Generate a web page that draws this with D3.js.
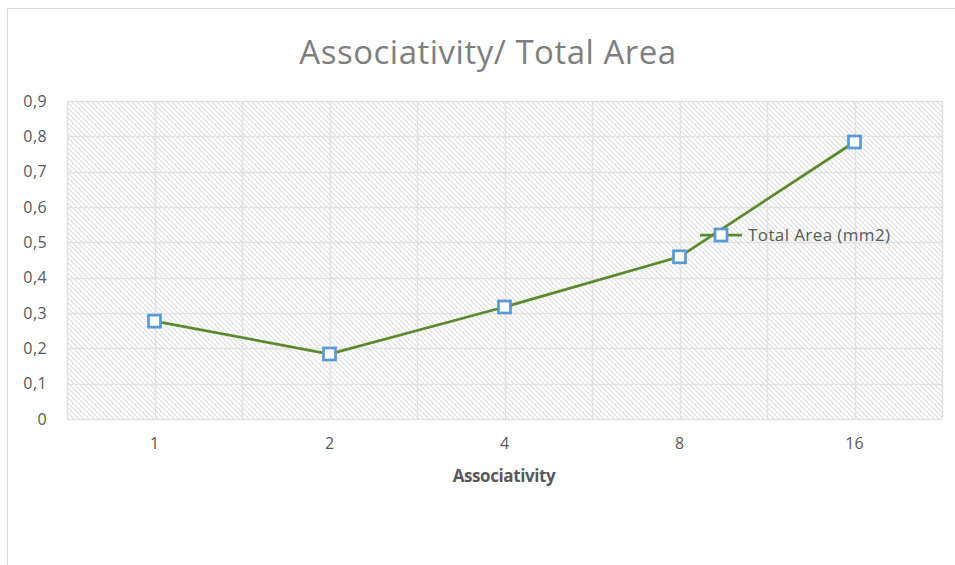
<!DOCTYPE html>
<html>
<head>
<meta charset="utf-8">
<script src="https://cdn.jsdelivr.net/npm/d3@7"></script>
<style>
  html, body { margin: 0; padding: 0; background: #fff; }
  svg { display: block; }
</style>
</head>
<body>
<script>
// Cache associativity vs. total area
const categories = ["1", "2", "4", "8", "16"];
const totalArea = [0.277, 0.184, 0.317, 0.459, 0.784];
const yTicks = [0, 0.1, 0.2, 0.3, 0.4, 0.5, 0.6, 0.7, 0.8, 0.9];
const seriesName = "Total Area (mm2)";
const chartTitle = "Associativity/ Total Area";
const xTitle = "Associativity";

const W = 955, H = 565;
const plot = { left: 67, top: 101, right: 942, bottom: 419 };

const svg = d3.select("body").append("svg")
  .attr("width", W).attr("height", H);

// hatch fill for the plot area
const defs = svg.append("defs");
const pat = defs.append("pattern")
  .attr("id", "hatch")
  .attr("patternUnits", "userSpaceOnUse")
  .attr("width", 5).attr("height", 5);
pat.append("rect").attr("width", 5).attr("height", 5).attr("fill", "#fff");
pat.append("path")
  .attr("d", "M-1,-1 L6,6 M-1,4 L1,6 M4,-1 L6,1")
  .attr("stroke", "#dedede").attr("stroke-width", 1.1);

// chart frame
svg.append("rect")
  .attr("x", 7.5).attr("y", 8.5)
  .attr("width", W + 10).attr("height", H + 10)
  .attr("fill", "none").attr("stroke", "#d9d9d9");

const x = d3.scaleBand().domain(categories)
  .range([plot.left, plot.right]).padding(0);
const y = d3.scaleLinear().domain([0, 0.9])
  .range([plot.bottom, plot.top]);

svg.append("rect")
  .attr("x", plot.left).attr("y", plot.top)
  .attr("width", plot.right - plot.left).attr("height", plot.bottom - plot.top)
  .attr("fill", "url(#hatch)");

// horizontal gridlines
svg.append("g").selectAll("line").data(yTicks).join("line")
  .attr("x1", plot.left).attr("x2", plot.right)
  .attr("y1", d => Math.round(y(d)) + 0.5).attr("y2", d => Math.round(y(d)) + 0.5)
  .attr("stroke", "#e2e2e2").attr("stroke-width", 1.5);

// vertical gridlines at category centres and boundaries
const vLines = [];
categories.forEach(c => {
  vLines.push(x(c));
  vLines.push(x(c) + x.bandwidth() / 2);
});
vLines.push(plot.right);
svg.append("g").selectAll("line").data(vLines).join("line")
  .attr("x1", d => Math.round(d) + 0.5).attr("x2", d => Math.round(d) + 0.5)
  .attr("y1", plot.top).attr("y2", plot.bottom)
  .attr("stroke", "#e2e2e2").attr("stroke-width", 1.5);

// y axis labels
const fmt = d => d3.format(".1f")(d).replace(".", ",").replace(/^0,0$/, "0");
const yAxis = d3.axisLeft(y).tickValues(yTicks).tickSize(0).tickPadding(20)
  .tickFormat(fmt);
const gy = svg.append("g").attr("transform", `translate(${plot.left},0)`).call(yAxis);
gy.select(".domain").remove();
gy.selectAll("text")
  .attr("font-family", "'Open Sans', sans-serif").attr("font-size", 16)
  .attr("letter-spacing", 0.4)
  .attr("fill", "#595959");

// x axis labels
const xAxis = d3.axisBottom(x).tickSize(0).tickPadding(19);
const gx = svg.append("g").attr("transform", `translate(0,${plot.bottom})`).call(xAxis);
gx.select(".domain").remove();
gx.selectAll("text")
  .attr("font-family", "'Open Sans', sans-serif").attr("font-size", 16)
  .attr("fill", "#595959");

// titles
svg.append("text")
  .attr("x", 488).attr("y", 64)
  .attr("text-anchor", "middle")
  .attr("font-family", "'Open Sans', sans-serif").attr("font-size", 33)
  .attr("letter-spacing", 0.5)
  .attr("fill", "#7f7f7f")
  .text(chartTitle);

svg.append("text")
  .attr("x", 504).attr("y", 482)
  .attr("text-anchor", "middle")
  .attr("font-family", "'Open Sans', sans-serif").attr("font-size", 17)
  .attr("font-weight", "bold").attr("letter-spacing", -0.4)
  .attr("fill", "#595959")
  .text(xTitle);

// series line and markers
const pts = categories.map((c, i) => [x(c) + x.bandwidth() / 2, y(totalArea[i])]);
svg.append("path")
  .attr("d", d3.line()(pts))
  .attr("fill", "none").attr("stroke", "#5b8a2f").attr("stroke-width", 2.75);

const ms = 12;
svg.append("g").selectAll("rect").data(pts).join("rect")
  .attr("x", d => d[0] - ms / 2).attr("y", d => d[1] - ms / 2)
  .attr("width", ms).attr("height", ms)
  .attr("fill", "#fff").attr("stroke", "#5b9bd5").attr("stroke-width", 2.75);

// legend
const lg = svg.append("g").attr("transform", "translate(721,235)");
lg.append("line").attr("x1", -21).attr("x2", 21)
  .attr("stroke", "#5b8a2f").attr("stroke-width", 2.75);
lg.append("rect").attr("x", -ms / 2).attr("y", -ms / 2)
  .attr("width", ms).attr("height", ms)
  .attr("fill", "#fff").attr("stroke", "#5b9bd5").attr("stroke-width", 2.75);
lg.append("text").attr("x", 27).attr("y", 6)
  .attr("font-family", "'Open Sans', sans-serif").attr("font-size", 17)
  .attr("letter-spacing", 0.4)
  .attr("fill", "#595959")
  .text(seriesName);
</script>
</body>
</html>
